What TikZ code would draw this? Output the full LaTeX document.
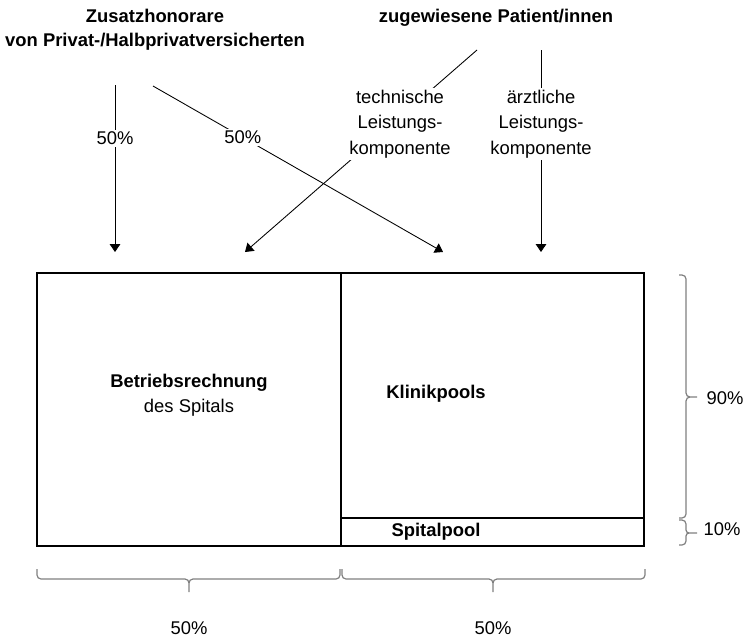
\documentclass[tikz,border=0pt]{standalone}
\usepackage{fontspec}
\setmainfont{Liberation Sans}
\usetikzlibrary{arrows.meta}
\tikzset{
  px/.style={x=0.75pt,y=-0.75pt},
  conn/.style={line width=0.65pt,-{Triangle[width=8pt,length=6pt]}},
  lbl/.style={font=\fontsize{13.8}{19}\selectfont,align=center,inner sep=1.5pt},
  lblw/.style={lbl,fill=white},
  head/.style={font=\fontsize{13.8}{18}\selectfont\bfseries,align=center,inner sep=1pt},
  boxline/.style={line width=2.2pt,line cap=rect},
  brace/.style={draw=black!50,line width=0.9pt}
}
\begin{document}
\begin{tikzpicture}[px]
\useasboundingbox (0,0) rectangle (749,640);

% headers
\node[head] (zus) at (155,30) {Zusatzhonorare\\von Privat-/Halbprivatversicherten};
\node[head] (pat) at (496,18) {zugewiesene Patient/innen};

% start coordinates
\coordinate (s1) at (115,85);
\coordinate (s2) at (153,86);
\coordinate (s3) at (477,50);
\coordinate (s4) at (541,50);

% targets on top of the boxes
\coordinate (t1) at (115,252);
\coordinate (t2) at (245,252);
\coordinate (t3) at (443,252);
\coordinate (t4) at (541,252);

% connectors
\draw[conn] (s1) -- node[lblw,pos=0.32] (p1) {50\%} (t1);
\draw[conn] (s2) -- node[lblw,pos=0.31] (p2) {50\%} (t3);
\draw[conn] (s3) -- (t2);
\draw[conn] (s4) -- (t4);
\node[lblw] (tech) at (400,124) {technische\\Leistungs-\\komponente};
\node[lblw] (arzt) at (541,124) {ärztliche\\Leistungs-\\komponente};

% boxes
\coordinate (bl) at (37,546);
\coordinate (tr) at (644,273);
\draw[boxline] (bl) rectangle (tr);
\draw[boxline] (341,273) -- (341,546);
\draw[boxline] (341,518) -- (644,518);

\node[lbl] (betrieb) at (189,395) {\textbf{Betriebsrechnung}\\des Spitals};
\node[lbl,font=\fontsize{13.8}{19}\selectfont\bfseries] (klinik) at (436,394) {Klinikpools};
\node[lbl,font=\fontsize{13.8}{19}\selectfont\bfseries] (spital) at (436,532) {Spitalpool};

% bottom braces
\draw[brace] (37,569) -- (37,575) to[out=-90,in=180] (41,579) -- (185,579)
  to[out=0,in=90] (189,583) -- (189,592);
\draw[brace] (189,583) to[out=90,in=180] (193,579) -- (336,579)
  to[out=0,in=-90] (340,575) -- (340,569);
\draw[brace] (342,569) -- (342,575) to[out=-90,in=180] (346,579) -- (489,579)
  to[out=0,in=90] (493,583) -- (493,592);
\draw[brace] (493,583) to[out=90,in=180] (497,579) -- (641,579)
  to[out=0,in=-90] (645,575) -- (645,569);
\node[lbl] (b1) at (189,628) {50\%};
\node[lbl] (b2) at (493,628) {50\%};

% right braces
\draw[brace] (679,275) -- (682,275) to[out=0,in=90] (686,279) -- (686,393)
  to[out=-90,in=180] (690,397) -- (697,397);
\draw[brace] (690,397) to[out=180,in=90] (686,401) -- (686,514)
  to[out=-90,in=0] (682,518) -- (679,518);
\draw[brace] (679,520) -- (682,520) to[out=0,in=90] (686,524) -- (686,530)
  to[out=-90,in=180] (689,533) -- (697,533);
\draw[brace] (689,533) to[out=180,in=90] (686,536) -- (686,541)
  to[out=-90,in=0] (682,545) -- (679,545);
\node[lbl] (r1) at (725,398) {90\%};
\node[lbl] (r2) at (722,529) {10\%};
\end{tikzpicture}
\end{document}
